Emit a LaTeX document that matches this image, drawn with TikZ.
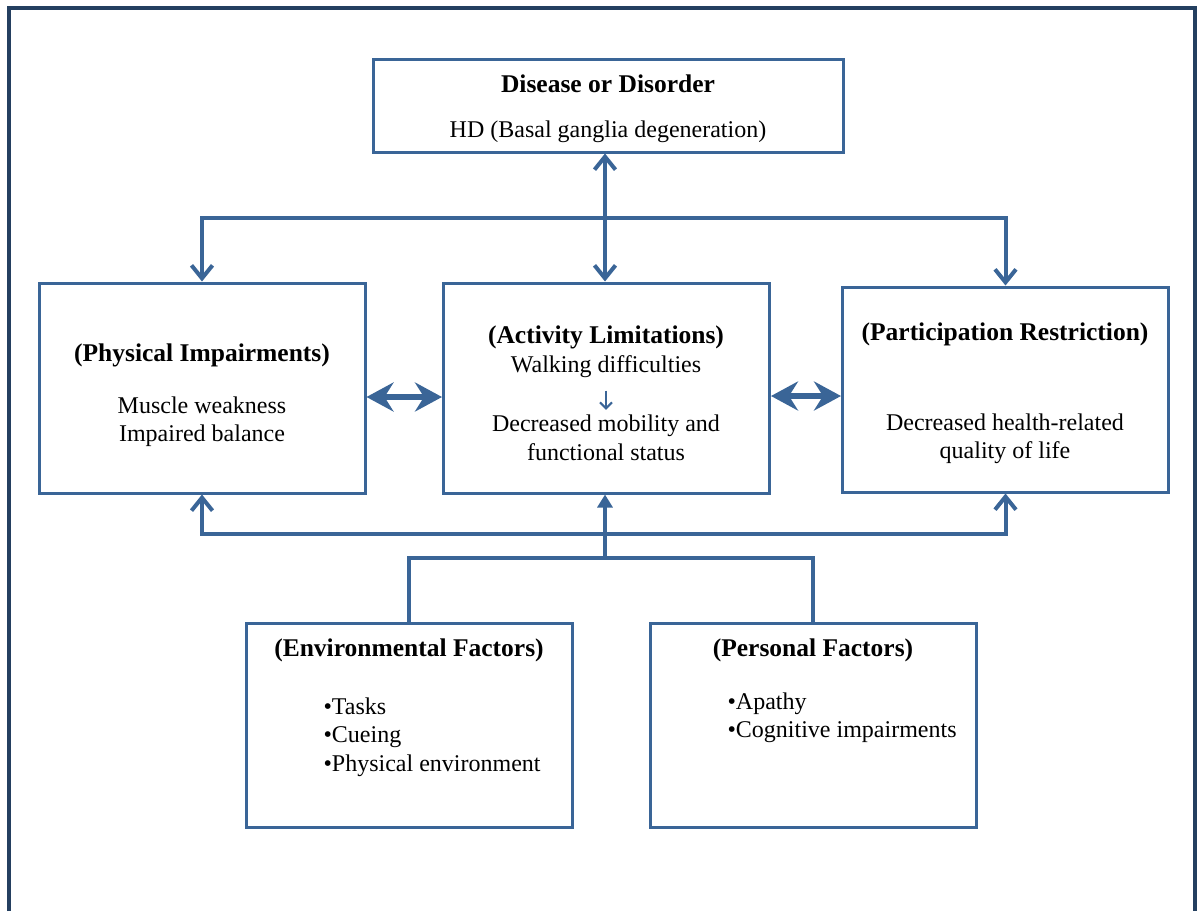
\documentclass[tikz,border=0pt]{standalone}
\usepackage{fontspec}
\setmainfont{Liberation Serif}
\usetikzlibrary{arrows.meta,positioning,calc}
\definecolor{boxblue}{HTML}{3A6597}
\definecolor{framenavy}{HTML}{243F60}
\tikzset{barb/.tip={Straight Barb[length=13pt,width=21pt]}, fathead/.tip={Stealth[length=27pt,width=29pt,inset=9pt]}}
\begin{document}
\begin{tikzpicture}[x=1pt,y=-1pt,font=\fontsize{24}{28.5}\selectfont]
		% node styles
			\tikzstyle{box} = [rectangle, draw=boxblue, line width=3pt, minimum width=326pt, minimum height=206pt, inner sep=0pt]
			\tikzstyle{title} = [font=\fontsize{25.5}{28.5}\selectfont\bfseries]
			\tikzstyle{txt} = [align=center]
			\tikzstyle{bul} = [align=left, anchor=west]
			\tikzstyle{link} = [draw=boxblue, line width=4pt, line join=miter]
			\tikzstyle{fat} = [draw=boxblue, line width=6pt, fathead-fathead]
			
			\useasboundingbox (0,0) rectangle (1197,911);
			\draw[framenavy, line width=3.5pt] (9,911) -- (9,8) -- (1195,8) -- (1195,911);
			
			% boxes
			\node [box, minimum width=470pt, minimum height=93pt] (dis) at (608,105.5) {};
			\node [box, minimum height=210pt] (act) at (606.5,388) {};
			\node [box, minimum height=210pt] (phys) at (202,388) {};
			\node [box, minimum height=205pt] (part) at (1005.5,389.5) {};
			\node [box, minimum height=204pt] (env) at (409,725) {};
			\node [box, minimum height=204pt] (pers) at (813,725) {};
			
			% texts
			\node [title] (distitle) at (608,84) {Disease or Disorder};
			\node (distext) at (608,132) {HD (Basal ganglia degeneration)};
			\node [title] (phystitle) at (202,355) {(Physical Impairments)};
			\node [txt] (phystext) at (202,421.5) {Muscle weakness\\Impaired balance};
			\node [title] (acttitle) at (606,337) {(Activity Limitations)};
			\node (walk) at (606,367) {Walking difficulties};
			\node [txt] (decr) at (606,438) {Decreased mobility and\\functional status};
			\node [title] (parttitle) at (1005,334) {(Participation Restriction)};
			\node [txt] (parttext) at (1005,439) {Decreased health-related\\quality of life};
			\node [title] (envtitle) at (409,650) {(Environmental Factors)};
			\node [bul] (envtext) at (320,737) {•Tasks\\•Cueing\\•Physical environment};
			\node [title] (perstitle) at (813,650) {(Personal Factors)};
			\node [bul] (perstext) at (724,718) {•Apathy\\•Cognitive impairments};
			
			\coordinate (topbar) at (605,218);
			\coordinate (botbar) at (605,534);
			\coordinate (factbar) at (605,558);
			
			% connectors
			\draw [link, barb-barb] (dis.south-|factbar) -- (act.north-|factbar);
			\draw [link, barb-barb] (phys.north) |- (topbar) -| (part.north);
			\draw [link, barb-barb] (phys.south) |- (botbar) -| (part.south);
			\draw [link] (env.north) |- (factbar) -| (pers.north);
			\draw [link, -{Triangle[length=13pt,width=15pt]}] (factbar) -- (act.south-|factbar);
			\draw [fat] ([yshift=-9pt]phys.east) -- ([yshift=-9pt]act.west);
			\draw [fat] ([yshift=-8pt]act.east) -- ([yshift=-8pt]act.east-|part.west);
			\draw [draw=boxblue, line width=2pt, -{Straight Barb[length=6pt,width=12pt]}, shorten <=9pt, shorten >=2pt] (walk) -- (decr);
		\end{tikzpicture}
\end{document}
